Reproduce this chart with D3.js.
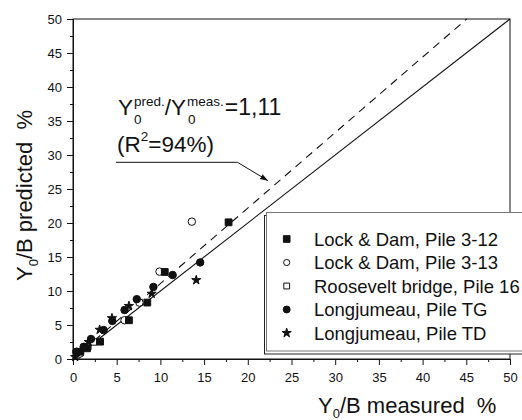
<!DOCTYPE html>
<html>
<head>
<meta charset="utf-8">
<script src="https://cdn.jsdelivr.net/npm/d3@7"></script>
<style>
  body { margin: 0; background: #fff; }
  svg { display: block; font-family: "Liberation Sans", Arial, sans-serif; }
  text { fill: #111; }
</style>
</head>
<body>
<svg width="522" height="420"></svg>
<script>
// series values, [measured, predicted] in %
var lockDam312 = [[0.83, 1.07], [1.6, 1.57], [3.1, 2.55], [6.4, 5.7], [8.5, 8.3], [10.5, 12.8], [17.8, 20.1]];
var lockDam313 = [[0.8, 0.8], [5.9, 5.7], [7.6, 8.3], [9.9, 12.85], [13.6, 20.2]];
var roosevelt16 = [[0.45, 0.6], [1.7, 1.8], [2.35, 2.5]];
var longjumeauTG = [[0.38, 1.07], [1.22, 1.8], [2.06, 2.94], [3.5, 4.26], [4.5, 5.6], [5.9, 7.2], [7.3, 8.8], [9.2, 10.6], [11.4, 12.35], [14.55, 14.2]];
var longjumeauTD = [[0.25, 0.3], [1.8, 2.5], [3.05, 4.3], [4.46, 6.0], [6.4, 7.8], [9.0, 9.6], [14.1, 11.6]];

var seriesNames = ["Lock & Dam, Pile 3-12", "Lock & Dam, Pile 3-13", "Roosevelt bridge, Pile 16", "Longjumeau, Pile TG", "Longjumeau, Pile TD"];
var majorTicks = [0, 5, 10, 15, 20, 25, 30, 35, 40, 45, 50];
var minorTicks = [2.5, 7.5, 12.5, 17.5, 22.5, 27.5, 32.5, 37.5, 42.5, 47.5];
var ratio = 1.11;

var svg = d3.select("svg");

var margin = { top: 19, left: 73, right: 12, bottom: 61 };
var width = 522 - margin.left - margin.right;
var height = 420 - margin.top - margin.bottom;

var x = d3.scaleLinear().domain([0, 50]).range([margin.left, margin.left + width]);
var y = d3.scaleLinear().domain([0, 50]).range([margin.top + height, margin.top]);

var ink = "#111";

// frame
svg.append("rect")
  .attr("x", margin.left)
  .attr("y", margin.top)
  .attr("width", width)
  .attr("height", height)
  .attr("fill", "none")
  .attr("stroke", ink)
  .attr("stroke-width", 1);

// axes
svg.append("g")
  .attr("transform", "translate(0," + (margin.top + height) + ")")
  .call(d3.axisBottom(x).tickValues(majorTicks).tickSize(6).tickSizeOuter(0).tickPadding(8));
svg.append("g")
  .attr("transform", "translate(0," + (margin.top + height) + ")")
  .call(d3.axisBottom(x).tickValues(minorTicks).tickSize(3).tickSizeOuter(0).tickFormat(""));
svg.append("g")
  .attr("transform", "translate(" + margin.left + ",0)")
  .call(d3.axisLeft(y).tickValues(majorTicks).tickSize(6).tickSizeOuter(0).tickPadding(5));
svg.append("g")
  .attr("transform", "translate(" + margin.left + ",0)")
  .call(d3.axisLeft(y).tickValues(minorTicks).tickSize(3).tickSizeOuter(0).tickFormat(""));

svg.selectAll(".tick line, .domain").attr("stroke", ink);
svg.selectAll(".tick text")
  .attr("font-size", 13)
  .attr("font-family", "Liberation Sans, Arial, sans-serif")
  .attr("fill", ink);

// y = x line and fitted ratio line
svg.append("line")
  .attr("x1", x(0)).attr("y1", y(0))
  .attr("x2", x(50)).attr("y2", y(50))
  .attr("stroke", ink)
  .attr("stroke-width", 1.1);

svg.append("line")
  .attr("x1", x(0)).attr("y1", y(0))
  .attr("x2", x(50 / ratio)).attr("y2", y(50))
  .attr("stroke", ink)
  .attr("stroke-width", 1.1)
  .attr("stroke-dasharray", "8,6");

// points
function drawPoints(data, type, filled, size) {
  svg.append("g")
    .selectAll("path")
    .data(data)
    .enter()
    .append("path")
    .attr("d", d3.symbol().type(type).size(size))
    .attr("transform", function(d) { return "translate(" + x(d[0]) + "," + y(d[1]) + ")"; })
    .attr("fill", filled ? ink : "#fff")
    .attr("stroke", ink)
    .attr("stroke-width", 1);
}
drawPoints(roosevelt16, d3.symbolSquare, false, 40);
drawPoints(lockDam313, d3.symbolCircle, false, 44);
drawPoints(lockDam312, d3.symbolSquare, true, 46);
drawPoints(longjumeauTG, d3.symbolCircle, true, 44);
drawPoints(longjumeauTD, d3.symbolStar, true, 26);

// annotation
var ann = svg.append("g");
function piece(str, px, py, fs) {
  var t = ann.append("text").attr("x", px).attr("y", py).attr("font-size", fs).text(str);
  return px + t.node().getComputedTextLength();
}
var ax = 118;
ax = piece("Y", ax, 115, 22.5);
piece("0", ax + 1, 124, 13.5);
ax = piece("pred.", ax + 1, 106, 13.5);
ax = piece("/Y", ax, 115, 22.5);
piece("0", ax + 2, 124, 13.5);
ax = piece("meas.", ax + 1, 106, 13.5);
piece("=1,11", ax + 1, 115, 23);

var rx = 117;
rx = piece("(R", rx, 152, 22.5);
rx = piece("2", rx, 141, 13.5);
piece("=94%)", rx, 152, 22.5);

// leader with arrow
svg.append("defs").append("marker")
  .attr("id", "arr")
  .attr("viewBox", "0 0 10 10")
  .attr("refX", 10).attr("refY", 5)
  .attr("markerWidth", 8).attr("markerHeight", 8)
  .attr("orient", "auto")
  .append("path")
  .attr("d", "M0,1.5 L10,5 L0,8.5 Z")
  .attr("fill", ink);

svg.append("polyline")
  .attr("points", "116,162.3 237.5,162.3 268,180.7")
  .attr("fill", "none")
  .attr("stroke", ink)
  .attr("stroke-width", 1)
  .attr("marker-end", "url(#arr)");

// legend
var lg = { x: 266.5, y: 212.5, w: 280, h: 138.5 };
svg.append("rect")
  .attr("x", lg.x - 2).attr("y", lg.y + 3)
  .attr("width", lg.w).attr("height", lg.h)
  .attr("fill", "#fff")
  .attr("stroke", "#222");
svg.append("rect")
  .attr("x", lg.x).attr("y", lg.y)
  .attr("width", lg.w).attr("height", lg.h)
  .attr("fill", "#fff")
  .attr("stroke", "#777");

var legendTypes = [d3.symbolSquare, d3.symbolCircle, d3.symbolSquare, d3.symbolCircle, d3.symbolStar];
var legendFill = [true, false, false, true, true];
var legendSize = [44, 30, 34, 38, 26];

var rows = svg.append("g")
  .selectAll("g")
  .data(seriesNames)
  .enter()
  .append("g")
  .attr("transform", function(d, i) { return "translate(0," + (245.5 + i * 23.5) + ")"; });

rows.append("path")
  .attr("d", function(d, i) { return d3.symbol().type(legendTypes[i]).size(legendSize[i])(); })
  .attr("transform", "translate(286.7,-6.5)")
  .attr("fill", function(d, i) { return legendFill[i] ? ink : "#fff"; })
  .attr("stroke", ink)
  .attr("stroke-width", 1);

rows.append("text")
  .attr("x", 314)
  .attr("font-size", 18.5)
  .text(function(d) { return d; });

// axis titles
var xt = svg.append("text")
  .attr("x", 318)
  .attr("y", 413)
  .attr("font-size", 22)
  .style("white-space", "pre");
xt.append("tspan").text("Y");
xt.append("tspan").attr("font-size", 13).attr("dy", 5).text("0");
xt.append("tspan").attr("dy", -5).text("/B measured  %");

var yt = svg.append("text")
  .attr("transform", "translate(32,281) rotate(-90)")
  .attr("font-size", 22)
  .style("white-space", "pre");
yt.append("tspan").text("Y");
yt.append("tspan").attr("font-size", 13).attr("dy", 6).text("0");
yt.append("tspan").attr("dy", -6).text("/B predicted  %");
</script>
</body>
</html>
